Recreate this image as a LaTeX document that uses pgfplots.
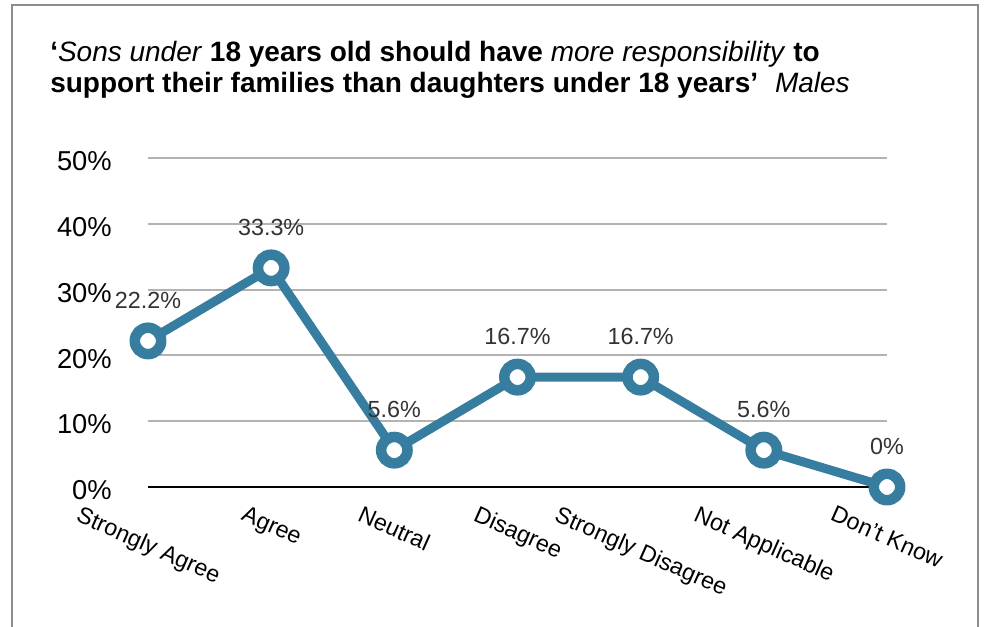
\documentclass[border=0pt]{standalone}
\usepackage{pgfplots}
\pgfplotsset{compat=1.18}
\usepackage{fontspec}
\setmainfont{Liberation Sans}
\definecolor{lineblue}{HTML}{377DA0}
\definecolor{gridgray}{HTML}{B3B3B3}
\definecolor{framegray}{HTML}{8C8C8C}
\begin{document}
\begin{tikzpicture}
\path[use as bounding box] (-111bp,-105bp) rectangle (627.75bp,365.25bp);
\draw[framegray, line width=1.5bp] (-102bp,-106bp) -- (-102bp,361.5bp) -- (622.5bp,361.5bp) -- (622.5bp,-106bp);
\node[anchor=base west, inner sep=0pt, font=\fontsize{21bp}{25bp}\selectfont] at (-73.5bp,318.75bp)
  {\textbf{‘}\textit{Sons under} \textbf{18 years old should have} \textit{more responsibility} \textbf{to}};
\node[anchor=base west, inner sep=0pt, font=\fontsize{21bp}{25bp}\selectfont] at (-73.5bp,295.5bp)
  {\textbf{support their families than daughters under 18 years’}\hspace{0.6em}\textit{Males}};
\begin{axis}[
  scale only axis, width=554.25bp, height=246.75bp,
  xmin=0, xmax=6, ymin=0, ymax=50,
  xtick={0,1,2,3,4,5,6},
  xticklabels={\rotatebox{-24}{Strongly Agree},\rotatebox{-24}{Agree},\rotatebox{-24}{Neutral},\rotatebox{-24}{Disagree},\rotatebox{-24}{Strongly Disagree},\rotatebox{-24}{Not Applicable},\rotatebox{-24}{Don’t Know}},
  ytick={10,20,30,40,50},
  yticklabels={10\%,20\%,30\%,40\%,50\%},
  extra y ticks={0}, extra y tick labels={0\%},
  extra y tick style={grid style={black, line width=1.5bp}},
  ymajorgrids, grid style={gridgray, line width=1.5bp},
  axis line style={draw=none},
  major tick length=0pt, tick style={draw=none},
  clip=false,
  xticklabel style={font=\fontsize{17.5bp}{20bp}\selectfont, anchor=north, inner sep=0pt, yshift=-13.5bp},
  yticklabel style={font=\fontsize{20.5bp}{24bp}\selectfont, anchor=east, inner sep=0pt, xshift=-27bp, yshift=-2.5bp},
  nodes near coords, point meta=explicit symbolic,
  every node near coord/.append style={inner sep=0pt, yshift=20.5bp, font=\fontsize{17.5bp}{20bp}\selectfont, text=black!80},
]
\addplot[lineblue, line width=6.75bp, mark=*, mark size=9.9bp, mark options={fill=white, draw=lineblue, line width=7.9bp}]
  coordinates {(0,22.2) [22.2\%] (1,33.3) [33.3\%] (2,5.6) [5.6\%] (3,16.7) [16.7\%] (4,16.7) [16.7\%] (5,5.6) [5.6\%] (6,0) [0\%]};
\end{axis}
\end{tikzpicture}
\end{document}
